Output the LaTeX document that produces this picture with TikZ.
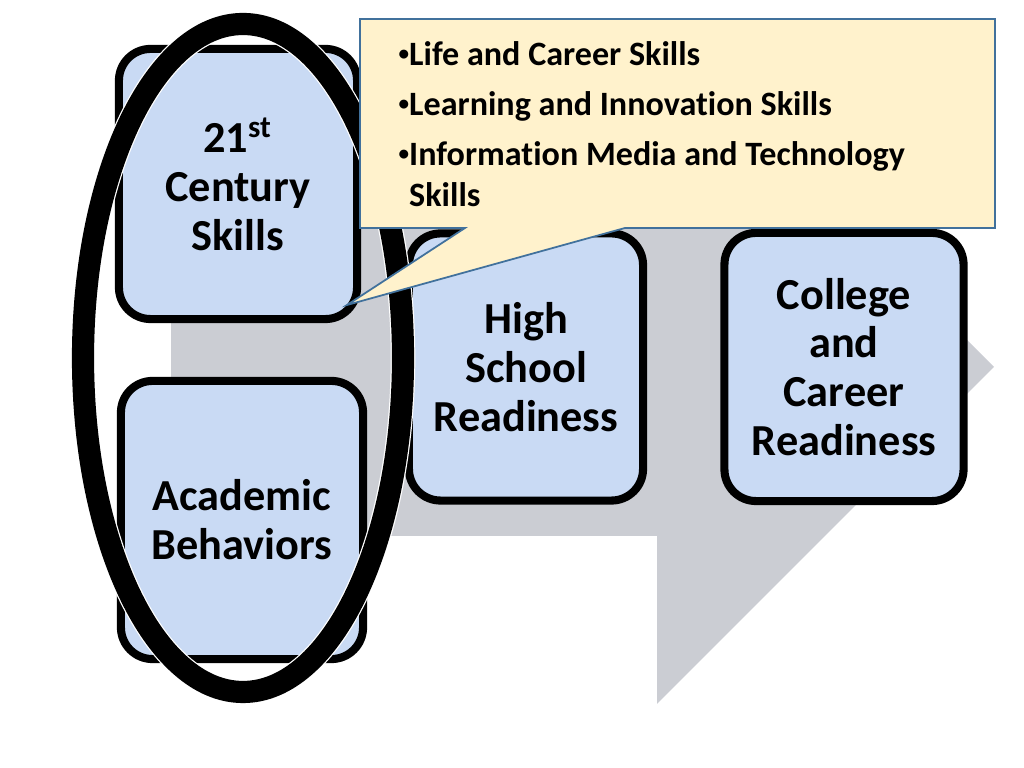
\documentclass[tikz,border=0pt]{standalone}
\usepackage{fontspec}
\setmainfont{Carlito}[Ligatures=NoCommon]
\usepackage{tikz}
\usetikzlibrary{calc}
\definecolor{boxblue}{HTML}{C9DAF4}
\definecolor{arrowgray}{HTML}{CBCDD3}
\definecolor{notefill}{HTML}{FFF2CC}
\definecolor{noteline}{HTML}{41719C}
\newcommand{\smallbul}{\raisebox{0.3ex}{\fontsize{6pt}{6pt}\selectfont•}}

\begin{document}
\begin{tikzpicture}[x=0.01cm,y=-0.01cm,line join=miter,
  stagebox/.style={draw=black,line width=2.3pt,fill=boxblue,rounded corners=9pt,
    inner sep=0pt,align=center,font=\fontsize{12.6pt}{13.9pt}\selectfont\bfseries},
  ring/.style={line width=6.3pt,draw=black},
  notetext/.style={inner sep=0pt,align=left,font=\fontsize{9.7pt}{11.7pt}\selectfont\bfseries}]
\useasboundingbox (0,0) rectangle (1024,768);
% big gray arrow behind the stages
\fill[arrowgray] (171,198) -- (657,198) -- (657,30) -- (994,367) -- (657,704) -- (657,536) -- (171,536) -- cycle;
\node[stagebox,minimum width=2.38cm,minimum height=2.70cm] (skills) at (238,184) {21\textsuperscript{st}\\Century\\Skills};
\node[stagebox,minimum width=2.42cm,minimum height=2.78cm] (behave) at (242,520) {Academic\\Behaviors};
\node[stagebox,minimum width=2.34cm,minimum height=2.67cm] (school) at (526,367) {High\\School\\Readiness};
\node[stagebox,minimum width=2.39cm,minimum height=2.68cm] (college) at (844,367) {College\\and\\Career\\Readiness};
% ring round the two foundations
\coordinate (ringc) at (243,358);
\draw[white,line width=7pt] (ringc) ellipse [x radius=160,y radius=334];
\draw[ring] (ringc) ellipse [x radius=160,y radius=334];
% callout
\coordinate (tip) at (347,305);
\draw[noteline,fill=notefill,line width=0.5pt] (360,19) -- (995,19) -- (995,228) -- (625,228) -- (tip) -- (465,228) -- (360,228) -- cycle;
\node[notetext,anchor=north west] (list) at (398,41) {\smallbul Life and Career Skills\\[2.5pt]
\smallbul Learning and Innovation Skills\\[2.5pt]
\smallbul Information Media and Technology\\
\hphantom{\smallbul}Skills};
\end{tikzpicture}
\end{document}
